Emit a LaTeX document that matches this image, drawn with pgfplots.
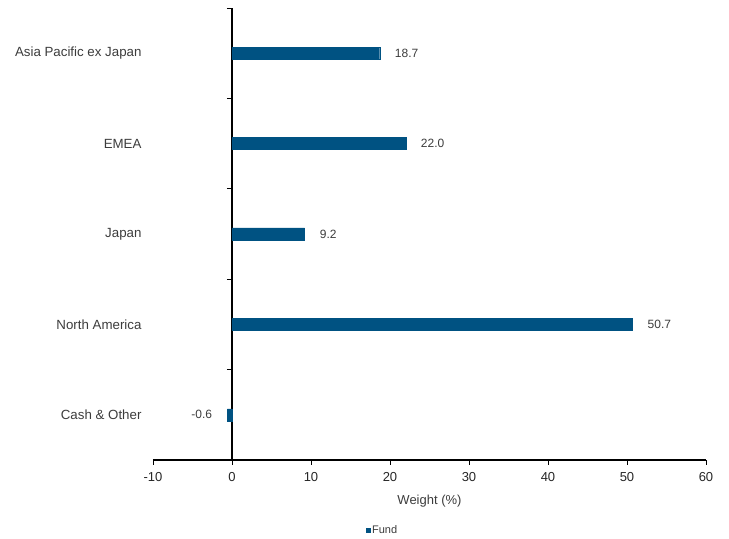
\documentclass[border=0pt]{standalone}
\usepackage{fontspec}
\setmainfont{Liberation Sans}
\usepackage{pgfplots}
\pgfplotsset{compat=1.18}
\definecolor{barblue}{RGB}{0,82,130}
\definecolor{txt}{RGB}{60,60,60}
\begin{document}
\begin{tikzpicture}
\begin{axis}[
  at={(0pt,0pt)}, anchor=south west,
  scale only axis, width=553pt, height=452pt,
  xbar, bar width=12pt,
  xmin=-10, xmax=60, xtick={-10,0,...,60},
  ymin=0.5, ymax=5.5,
  ytick={0.5,1.5,...,5.5},
  yticklabels={},
  extra y ticks={1,2,3,4,5},
  extra y tick labels={Cash \& Other, North America, Japan, EMEA, Asia Pacific ex Japan},
  extra y tick style={major tick length=0pt, yticklabel style={font=\fontsize{13.3}{15}\selectfont, text=txt, anchor=east, xshift=-87pt}},
  axis x line=bottom, axis y line=middle,
  axis line style={-, black, line width=1.1pt},
  every inner y axis line/.append style={-},
  every outer x axis line/.append style={-},
  tick align=outside,
  major tick length=5pt,
  tick style={black, line width=0.8pt},
  /pgf/number format/assume math mode=true,
  xticklabel style={font=\fontsize{13}{15}\selectfont, text=black!85, yshift=-4pt},
  xlabel={Weight (\%)},
  xlabel style={font=\fontsize{13}{15}\selectfont, text=txt, yshift=-6pt},
  nodes near coords,
  nodes near coords align={horizontal},
  every node near coord/.append style={font=\fontsize{12}{14}\selectfont, text=txt, inner xsep=15pt,
    /pgf/number format/.cd, fixed, fixed zerofill, precision=1, assume math mode=true},
  legend style={draw=none, at={(0.415,-0.155)}, anchor=center, font=\fontsize{11}{13}\selectfont, text=txt},
  legend image code/.code={\fill[barblue] (1pt,-2pt) rectangle (5pt,2pt);},
]
\addplot[fill=barblue, draw=barblue] coordinates {(-0.6,1) (50.7,2) (9.2,3) (22.0,4) (18.7,5)};
\addlegendentry{Fund}
\end{axis}
\path[use as bounding box] (-153pt,-78pt) rectangle (576pt,460pt);
\end{tikzpicture}
\end{document}
